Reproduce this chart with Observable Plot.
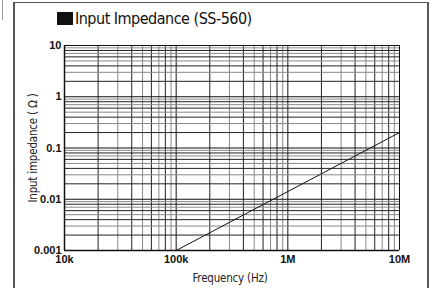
<!DOCTYPE html>
<html><head><meta charset="utf-8">
<script src="https://cdn.jsdelivr.net/npm/d3@7"></script>
<script src="https://cdn.jsdelivr.net/npm/@observablehq/plot@0.6"></script>
<style>
body{margin:0;background:#fff;}
#wrap{position:relative;width:433px;height:288px;overflow:hidden;}
#wrap svg{position:absolute;left:0;top:0;}
.fl{position:absolute;background:#555;}
.cond{font-family:"DejaVu Sans Condensed",sans-serif;color:#222;white-space:nowrap;}
#title{position:absolute;left:57px;top:9px;font-size:16px;letter-spacing:-0.5px;color:#111;}
#title .sq{display:inline-block;width:16px;height:13px;background:#111;vertical-align:-1px;margin-right:2px;}
#ylab{position:absolute;left:33px;top:148px;font-size:11.5px;letter-spacing:-0.2px;transform:translate(-50%,-50%) rotate(-90deg);}
#xlab{position:absolute;left:230px;top:278px;font-size:11.5px;letter-spacing:-0.2px;transform:translate(-50%,-50%);}
</style></head>
<body><div id="wrap">
<div class="fl" style="left:13px;top:2px;width:2px;height:286px;"></div>
<div class="fl" style="left:13px;top:2px;width:416px;height:1px;"></div>
<div class="fl" style="left:427px;top:2px;width:2px;height:286px;"></div>
<div class="fl" style="left:2px;top:0px;width:1px;height:20px;background:#999"></div>
<div id="title" class="cond"><span class="sq"></span>Input Impedance (SS-560)</div>
<div id="ylab" class="cond">Input impedance ( Ω )</div>
<div id="xlab" class="cond">Frequency (Hz)</div>
</div>
<script>
const freqTicks = [1e4, 1e5, 1e6, 1e7];
const freqTickLabels = ["10k", "100k", "1M", "10M"];
const impTicks = [0.001, 0.01, 0.1, 1, 10];
const impTickLabels = ["0.001", "0.01", "0.1", "1", "10"];
const lineFreq = [1e5, 1e7];
const lineImp = [0.001, 0.2];
const multipliers = [1,2,3,4,5,6,7,8,9];

const xGrid = [];
for (const d of [1e4,1e5,1e6]) for (const m of multipliers) xGrid.push({v:d*m, m});
xGrid.push({v:1e7, m:1});
const yGrid = [];
for (const d of [0.001,0.01,0.1,1]) for (const m of multipliers) yGrid.push({v:d*m, m});
yGrid.push({v:10, m:1});
const col = m => (m===1 ? "#111" : (m%2===0 ? "#222" : "#888"));
const lineData = lineFreq.map((f,i)=>({f, z: lineImp[i]}));

const chart = Plot.plot({
  width: 433, height: 288,
  marginLeft: 64, marginRight: 34, marginTop: 45, marginBottom: 38,
  x: {type:"log", domain:[1e4,1e7], label:null},
  y: {type:"log", domain:[0.001,10], label:null},
  style: {fontFamily:"Liberation Sans, Arial, sans-serif", fontSize:"11px", fontWeight:"bold", color:"#111", background:"transparent"},
  marks: [
    Plot.ruleX(xGrid, {x:"v", stroke: d=>col(d.m), strokeWidth:1}),
    Plot.ruleY(yGrid, {y:"v", stroke: d=>col(d.m), strokeWidth:1}),
    Plot.ruleX([1e4], {stroke:"#111", strokeWidth:1.5}),
    Plot.ruleY([0.001], {stroke:"#111", strokeWidth:1.5}),
    Plot.line(lineData, {x:"f", y:"z", stroke:"#111", strokeWidth:1}),
    Plot.axisX({ticks: freqTicks, tickFormat: d=>freqTickLabels[freqTicks.indexOf(d)], tickSize:0, tickPadding:5, label:null}),
    Plot.axisY({ticks: impTicks, tickFormat: d=>impTickLabels[impTicks.indexOf(d)], tickSize:0, tickPadding:3, label:null})
  ]
});
document.getElementById("wrap").prepend(chart);
</script>
</body></html>
